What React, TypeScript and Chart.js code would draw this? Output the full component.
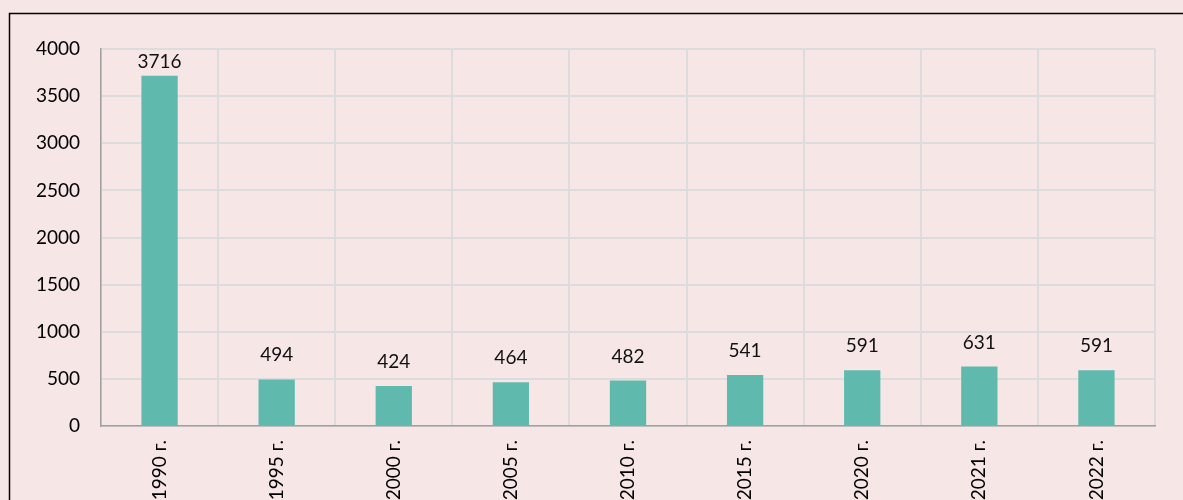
import React, { useEffect, useRef } from "react";
import { Chart, registerables } from "chart.js";

Chart.register(...registerables);

const categories = ["1990 г.", "1995 г.", "2000 г.", "2005 г.", "2010 г.", "2015 г.", "2020 г.", "2021 г.", "2022 г."];
const values = [3716, 494, 424, 464, 482, 541, 591, 631, 591];
const yTicks = [0, 500, 1000, 1500, 2000, 2500, 3000, 3500, 4000];

const BG = "#f6e6e6";
const FONT = "Lato, 'Noto Sans', sans-serif";

const bgPlugin = {
  id: "bgPlugin",
  beforeDraw(chart: any) {
    const { ctx, width, height } = chart;
    ctx.save();
    ctx.fillStyle = BG;
    ctx.fillRect(0, 0, width, height);
    ctx.strokeStyle = "#000";
    ctx.lineWidth = 1.5;
    ctx.beginPath();
    ctx.moveTo(9.5, height);
    ctx.lineTo(9.5, 13.5);
    ctx.lineTo(width, 13.5);
    ctx.stroke();
    ctx.restore();
  },
};

const labelPlugin = {
  id: "labelPlugin",
  afterDatasetsDraw(chart: any) {
    const { ctx, chartArea } = chart;
    const meta = chart.getDatasetMeta(0);
    ctx.save();
    ctx.font = `19px ${FONT}`;
    ctx.fillStyle = "#111";
    ctx.textAlign = "center";
    ctx.textBaseline = "alphabetic";
    meta.data.forEach((bar: any, i: number) => {
      const y = Math.max(bar.y - 18, chartArea.top + 19);
      ctx.fillText(String(values[i]), bar.x, y);
    });
    ctx.restore();
  },
};

export default function App() {
  const ref = useRef<HTMLCanvasElement | null>(null);
  useEffect(() => {
    document.body.style.margin = "0";
    document.body.style.background = BG;
    const chart = new Chart(ref.current as HTMLCanvasElement, {
      type: "bar",
      data: {
        labels: categories,
        datasets: [
          {
            data: values,
            backgroundColor: "#5fbaad",
            categoryPercentage: 1,
            barPercentage: 0.31,
          },
        ],
      },
      options: {
        animation: false,
        responsive: false,
        layout: { padding: { left: 0, right: 28, top: 49, bottom: 0 } },
        plugins: { legend: { display: false }, tooltip: { enabled: false } },
        scales: {
          x: {
            offset: true,
            grid: { offset: true, color: "#dcdcdc", lineWidth: 2, drawTicks: false },
            border: { color: "#a0a0a0", width: 1.5 },
            ticks: {
              minRotation: 90,
              maxRotation: 90,
              padding: 14,
              color: "#000",
              font: { family: FONT, size: 19 },
            },
            afterFit(scale: any) {
              scale.height = 74;
            },
          },
          y: {
            min: 0,
            max: 4000,
            afterBuildTicks(scale: any) {
              scale.ticks = yTicks.map((v) => ({ value: v }));
            },
            grid: { color: "#dcdcdc", lineWidth: 2, drawTicks: false },
            border: { color: "#a0a0a0", width: 1.5 },
            ticks: {
              padding: 21,
              color: "#000",
              font: { family: FONT, size: 19 },
              callback: (v: any) => String(v),
            },
            afterFit(scale: any) {
              scale.width = 101;
            },
          },
        },
      },
      plugins: [bgPlugin, labelPlugin],
    });
    return () => chart.destroy();
  }, []);
  return <canvas ref={ref} width={1183} height={500} style={{ display: "block" }} />;
}
